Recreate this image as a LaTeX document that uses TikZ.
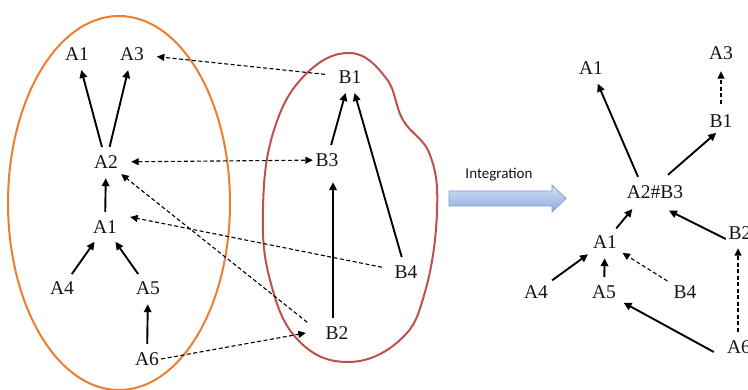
\documentclass[tikz,border=0pt]{standalone}
\usepackage{fontspec}
\setmainfont{Liberation Serif}
\newfontfamily\calib{Carlito}
\usetikzlibrary{arrows.meta,shapes.geometric}
\definecolor{orangeell}{HTML}{ED7D31}
\definecolor{redblob}{HTML}{C0504D}
\definecolor{arrfillA}{HTML}{D2DFF4}
\definecolor{arrfillB}{HTML}{8EADE0}
\definecolor{arrdraw}{HTML}{7F9ED6}
\definecolor{txt}{HTML}{141414}
\tikzset{
  lbl/.style={ellipse, inner sep=0pt, minimum width=50pt, minimum height=30pt,
    font=\fontsize{19.5}{21}\selectfont, text=txt},
  sar/.style={line width=1.9pt, -{Triangle[length=8pt,width=7.5pt]}, shorten >=1pt},
  dar/.style={line width=1.1pt, dash pattern=on 4pt off 2.5pt, -{Triangle[length=7.5pt,width=7pt]}},
}
\begin{document}
\begin{tikzpicture}[x=1pt,y=-1pt]
\useasboundingbox (0,0) rectangle (748,390);
\clip (0,0) rectangle (748,390);
% groups
\draw[orangeell, line width=2pt] (119,203) ellipse [x radius=111, y radius=187];
\draw[redblob, line width=2pt] plot[smooth cycle, tension=0.7] coordinates {
  (350,53) (386,78) (403,120) (430,155) (437,212) (425,292) (400,340) (348,362)
  (298,340) (270,280) (263,207) (274,130) (305,75)};
% left nodes
\node[lbl] (A1t) at (77,54) {A1};
\node[lbl] (A3)  at (132,54) {A3};
\node[lbl] (A2)  at (106,162) {A2};
\node[lbl] (A1m) at (105,227) {A1};
\node[lbl] (A4)  at (62,288) {A4};
\node[lbl] (A5)  at (148,288) {A5};
\node[lbl] (A6)  at (147,359) {A6};
\node[lbl] (B1)  at (350,77) {B1};
\node[lbl] (B3)  at (327,160) {B3};
\node[lbl] (B4)  at (406,272) {B4};
\node[lbl] (B2)  at (337,333) {B2};
% left edges
\draw[sar] (A2) -- (A1t);
\draw[sar] (A2) -- (A3);
\draw[sar] (A1m) -- (A2);
\draw[sar] (A4) -- (A1m);
\draw[sar] (A5) -- (A1m);
\draw[sar] (A6) -- (A5);
\draw[sar] (B3) -- (B1);
\draw[sar] (B4) -- (B1);
\draw[sar] ([xshift=-4pt]B2.north) -- ([xshift=6pt,yshift=-6pt]B3.south);
\draw[dar] (B1) -- (A3);
\draw[dar,{Triangle[length=7.5pt,width=7pt]}-{Triangle[length=7.5pt,width=7pt]}, shorten >=-11pt] (A2) -- (B3);
\draw[dar] (B4) -- ([yshift=10pt]A1m.east);
\draw[dar] ([xshift=-12pt]B2.north west) -- (A2);
\draw[dar] ([xshift=-11pt]A6.east) -- ([xshift=-6pt]B2.west);
% integration arrow
\node[font=\calib\fontsize{15}{17}\selectfont, text=txt] (int) at (499,175) {Integration};
\shade[top color=arrfillA, bottom color=arrfillB, draw=arrdraw, line width=0.8pt]
  (449,191) -- (552,191) -- (552,185) -- (566,198.5) -- (552,212) -- (552,206) -- (449,206) -- cycle;
% right nodes
\node[lbl] (rA1)  at (591,68) {A1};
\node[lbl] (rA3)  at (721,53) {A3};
\node[lbl] (rB1)  at (721,121) {B1};
\node[lbl, minimum width=84pt] (rAB) at (655,192) {A2\#B3};
\node[lbl] (rA1m) at (605,242) {A1};
\node[lbl] (rA4)  at (536,292) {A4};
\node[lbl] (rA5)  at (604,292) {A5};
\node[lbl] (rB4)  at (685,292) {B4};
\node[lbl] (rB2)  at (740,233) {B2};
\node[lbl] (rA6)  at (739,347) {A6};
% right edges
\draw[sar] ([xshift=-17pt]rAB.north) -- (rA1);
\draw[sar] ([xshift=13pt,yshift=2pt]rAB.north) -- ([xshift=-4pt,yshift=4pt]rB1.south);
\draw[dar] ([yshift=2pt]rB1.north) -- ([yshift=-3pt]rA3.south);
\draw[sar] (rA1m) -- ([xshift=-22pt,yshift=-1pt]rAB.south);
\draw[sar] ([xshift=11pt,yshift=-6pt]rB2.west) -- ([xshift=13pt,yshift=-3pt]rAB.south);
\draw[sar] (rA4) -- (rA1m);
\draw[sar] (rA5) -- (rA1m);
\draw[dar] (rB4) -- (rA1m);
\draw[sar] ([yshift=-5pt]rA6.west) -- (rA5);
\draw[dar] ([xshift=-1pt]rA6.north) -- ([xshift=-2pt]rB2.south);
\end{tikzpicture}
\end{document}
